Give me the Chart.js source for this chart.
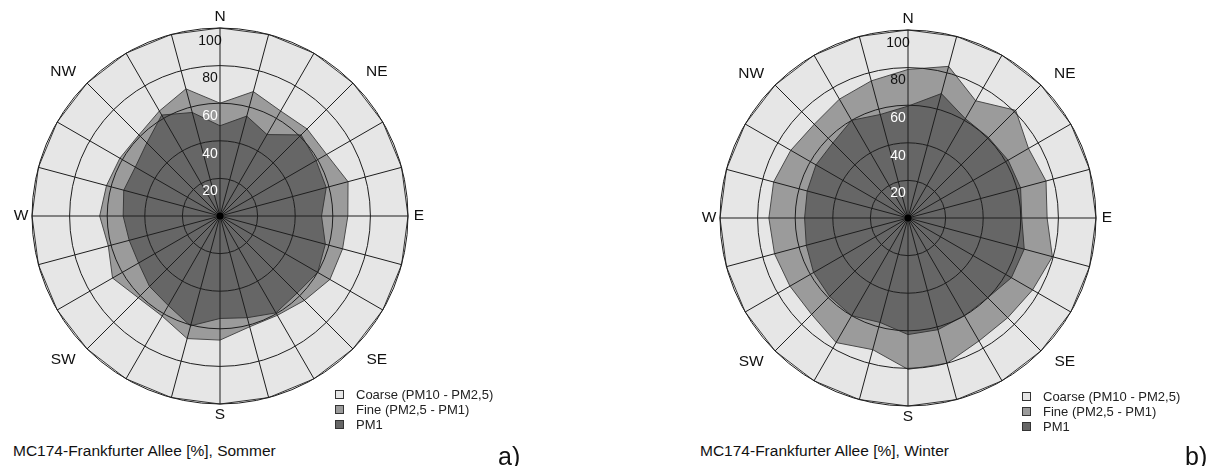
<!DOCTYPE html>
<html>
<head>
<meta charset="utf-8">
<script src="https://cdn.jsdelivr.net/npm/chart.js@4"></script>
<style>
  body { margin: 0; width: 1215px; height: 466px; background: #fff; position: relative; overflow: hidden;
         font-family: "Liberation Sans", Arial, sans-serif; color: #111; }
  .panel { position: absolute; top: 0; width: 540px; height: 466px; }
  .panel canvas { position: absolute; left: 0; top: 0; }
  .legend { position: absolute; left: 335px; top: 387px; font-size: 13px; line-height: 15px; color: #222; }
  .legend div { position: relative; padding-left: 21px; white-space: nowrap; }
  .legend span { position: absolute; left: 0; top: 3px; width: 7px; height: 7px; border: 1px solid #333; }
  .caption { position: absolute; left: 13px; top: 442px; font-size: 15.5px; line-height: 17px; white-space: nowrap; }
  .tag { position: absolute; left: 498px; top: 444px; font-size: 25px; line-height: 24px; }
</style>
</head>
<body>

<div class="panel" style="left:0px">
  <canvas id="sommer" width="442" height="433"></canvas>
  <div class="legend" id="legSommer"></div>
  <div class="caption">MC174-Frankfurter Allee [%], Sommer</div>
  <div class="tag">a)</div>
</div>

<div class="panel" style="left:687px">
  <canvas id="winter" width="442" height="433"></canvas>
  <div class="legend" id="legWinter" style="top:389px"></div>
  <div class="caption">MC174-Frankfurter Allee [%], Winter</div>
  <div class="tag">b)</div>
</div>

<script>
// Richtungen, 15 Grad Schritte, im Uhrzeigersinn ab Nord
const directions = ['N', '', '', 'NE', '', '', 'E', '', '', 'SE', '', '', 'S', '', '', 'SW', '', '', 'W', '', '', 'NW', '', ''];
const tickValues = [20, 40, 60, 80, 100];

// kumulierte Anteile [%]
const pm1Sommer  = [48, 55, 50, 61, 59, 58.5, 54, 58, 60, 58, 59.5, 56, 54.5, 60.5, 55, 53, 50, 50, 51.5, 53, 52, 55, 62, 57];
const fineSommer = [60, 68.5, 64.5, 65.5, 65.5, 70.5, 68, 67.5, 67.5, 63.5, 61, 61, 66, 67.5, 61.5, 61.5, 66, 61.5, 64, 62.5, 61.5, 61, 64.5, 70];

const pm1Winter  = [59.5, 68.5, 61, 60.5, 61.5, 62, 60.5, 64, 63.5, 60, 60, 61.5, 62, 57.5, 60, 59, 58, 56, 55, 55.5, 56.5, 56.5, 60, 57];
const fineWinter = [79, 83.5, 72, 81, 74, 76, 74, 79.5, 76.5, 75, 75.5, 80, 80.5, 72.5, 76.5, 72.5, 72.5, 73.5, 74, 74, 72, 70.5, 73, 75.5];

const coarse = [100, 100, 100, 100, 100, 100, 100, 100, 100, 100, 100, 100,
                100, 100, 100, 100, 100, 100, 100, 100, 100, 100, 100, 100];

const FONT = '"Liberation Sans", Arial, sans-serif';

// Beschriftung: Mittelpunkt, Skalenwerte, Himmelsrichtungen
const decorations = {
  id: 'decorations',
  afterDraw(chart) {
    const r = chart.scales.r;
    const ctx = chart.ctx;
    const cx = r.xCenter, cy = r.yCenter;
    ctx.save();
    ctx.fillStyle = '#000';
    ctx.beginPath();
    ctx.arc(cx, cy, 3.5, 0, Math.PI * 2);
    ctx.fill();

    ctx.font = '14px ' + FONT;
    ctx.textAlign = 'center';
    ctx.textBaseline = 'middle';
    tickValues.forEach(v => {
      const d = r.getDistanceFromCenterForValue(v);
      ctx.fillStyle = v <= 60 ? '#fff' : '#111';
      ctx.fillText(String(v), cx - 10, cy - d + 13);
    });

    ctx.font = '15.5px ' + FONT;
    ctx.fillStyle = '#111';
    directions.forEach((lab, i) => {
      if (!lab) return;
      const diag = lab.length === 2;
      const tilt = diag ? (i % 12 === 3 ? 0.042 : -0.042) : 0;
      const p = r.getPointPosition(i, r.drawingArea + (diag ? 25 : 11), tilt);
      ctx.fillText(lab, p.x, p.y);
    });
    ctx.restore();
  }
};

function makeChart(id, legendId, pm1, fine, pad) {
  const chart = new Chart(id, {
    type: 'radar',
    data: {
      labels: directions,
      datasets: [{
        label: 'PM1',
        data: pm1,
        backgroundColor: '#666666',
        borderColor: '#3a3a3a',
        fill: 'origin'
      }, {
        label: 'Fine (PM2,5 - PM1)',
        data: fine,
        backgroundColor: '#9b9b9b',
        borderColor: '#4a4a4a',
        fill: 'origin'
      }, {
        label: 'Coarse (PM10 - PM2,5)',
        data: coarse,
        backgroundColor: '#e6e6e6',
        borderColor: '#333333',
        fill: 'origin'
      }]
    },
    options: {
      responsive: false,
      animation: false,
      layout: { padding: pad },
      elements: {
        line: { borderWidth: 1, tension: 0 },
        point: { radius: 0, hoverRadius: 0 }
      },
      plugins: {
        legend: { display: false },
        tooltip: { enabled: false }
      },
      scales: {
        r: {
          min: 0,
          max: 100,
          ticks: { display: false, stepSize: 20 },
          grid: { circular: true, color: '#1e1e1e', lineWidth: 1, z: 1 },
          angleLines: { color: '#1e1e1e', lineWidth: 1 },
          pointLabels: { display: false }
        }
      }
    },
    plugins: [decorations]
  });

  // Legende wie im Original: Coarse, Fine, PM1
  const leg = document.getElementById(legendId);
  chart.data.datasets.slice().reverse().forEach(ds => {
    const row = document.createElement('div');
    row.innerHTML = '<span style="background:' + ds.backgroundColor + '"></span>' + ds.label;
    leg.appendChild(row);
  });
  return chart;
}

makeChart('sommer', 'legSommer', pm1Sommer, fineSommer, { left: 32, top: 28, right: 33, bottom: 28 });
makeChart('winter', 'legWinter', pm1Winter, fineWinter, { left: 33, top: 30, right: 32, bottom: 26 });
</script>
</body>
</html>
